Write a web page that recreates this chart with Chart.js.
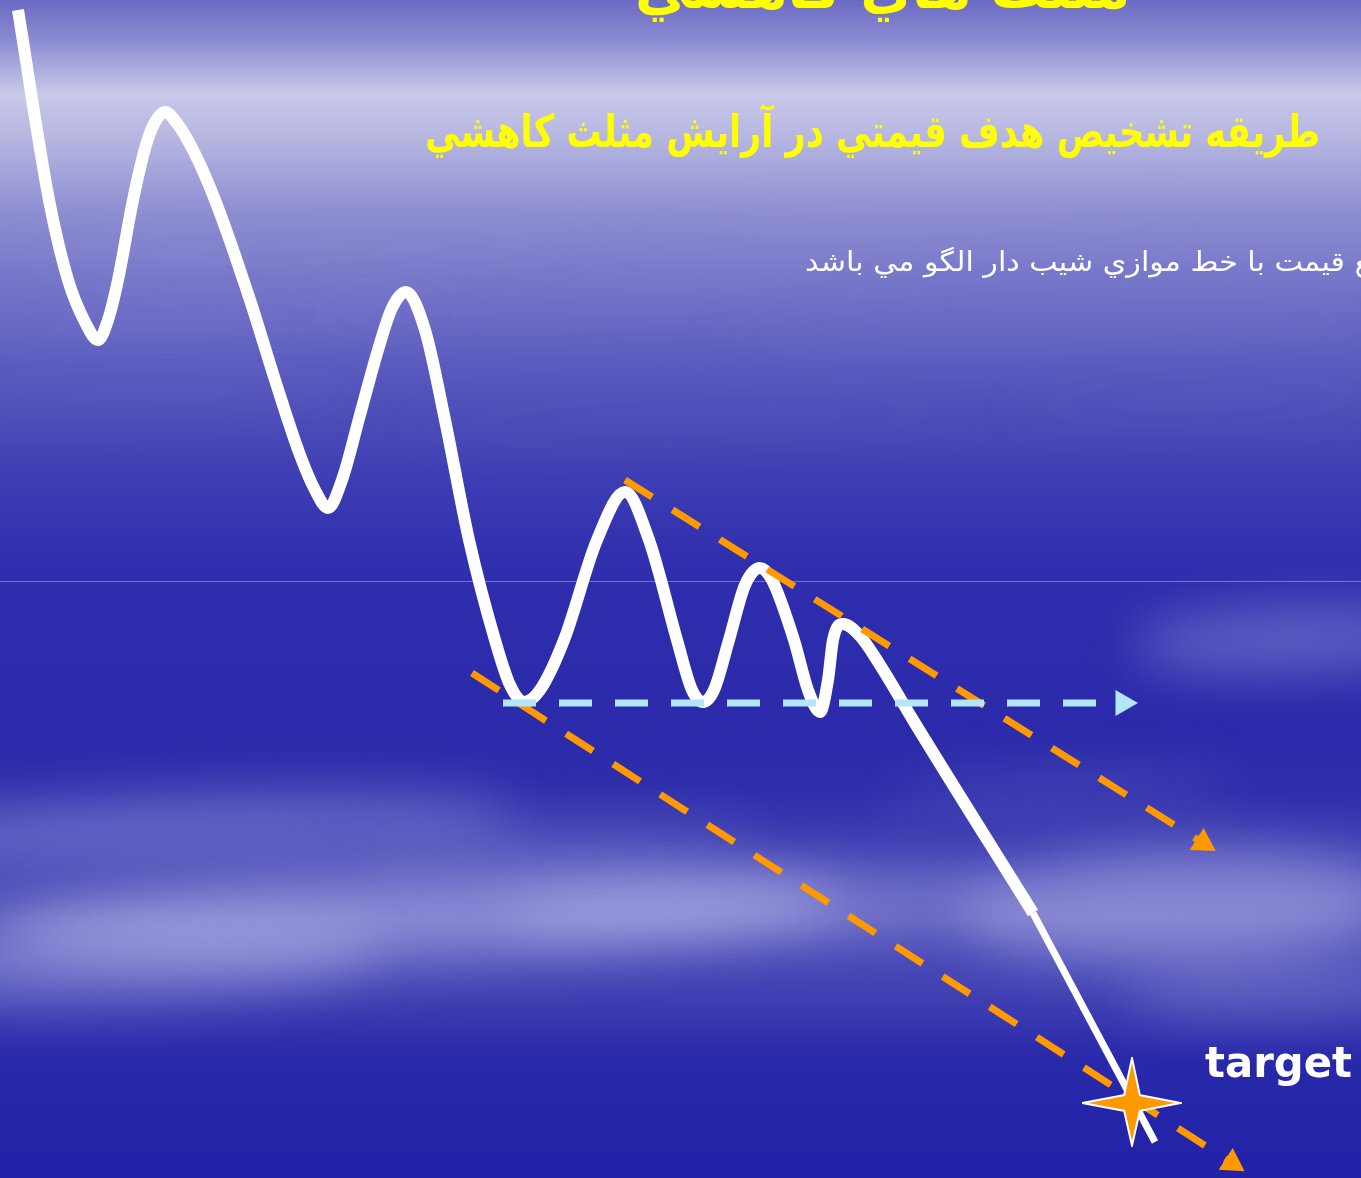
<!DOCTYPE html>
<html>
<head>
<meta charset="utf-8">
<script src="https://cdn.jsdelivr.net/npm/chart.js@4"></script>
<style>
  html, body { margin: 0; padding: 0; background: #2a2aaa; overflow: hidden; }
  canvas { display: block; }
</style>
</head>
<body>
<canvas id="chart" width="1361" height="1178"></canvas>
<script>
const waveX = [18, 49, 68, 85, 98, 108, 118, 133, 146, 155, 165, 176, 193, 215, 250, 275, 300, 315, 328, 342, 360, 378, 392, 406, 425, 445, 469, 495, 510, 524, 540, 564, 597, 625, 649, 677, 692, 703, 714, 729, 745, 760, 772, 794, 808, 820, 828, 833, 843, 860, 880, 913, 1033]
const waveY = [10, 200, 280, 322, 340, 320, 280, 200, 145, 122, 112, 122, 150, 200, 300, 380, 455, 490, 508, 480, 415, 350, 308, 292, 330, 420, 540, 640, 685, 702, 690, 640, 540, 492, 540, 640, 690, 702, 690, 640, 585, 568, 580, 640, 690, 712, 680, 640, 624, 636, 665, 720, 913]
const tailX = [1033, 1155]
const tailY = [913, 1142]

// pattern lines (start, arrow)
const upperX = [625, 1203]
const upperY = [480, 843]
const lowerX = [472, 1232]
const lowerY = [673, 1163]
const supportX = [503, 1123]
const supportY = [703, 703]

const targetX = [1132]
const targetY = [1102]

const titleText = 'مثلث هاي كاهشي'
const subtitleText = 'طريقه تشخيص هدف قيمتي در آرايش مثلث كاهشي'
const noteText = 'هدف قيمتي محل تقاطع قيمت با خط موازي شيب دار الگو مي باشد'
const noteVisible = 'قيمت با خط موازي شيب دار الگو مي باشد'
const targetText = 'target'

const pts = (xs, ys) => xs.map((x, i) => ({ x: x, y: ys[i] }))

// 4 pointed star used as point style
const star = document.createElement('canvas')
star.width = 100
star.height = 90
{
  const s = star.getContext('2d')
  const cx = 50, cy = 46, r = 7
  s.beginPath()
  s.moveTo(cx, cy - 40)
  s.lineTo(cx + r, cy - r)
  s.lineTo(cx + 43, cy)
  s.lineTo(cx + r, cy + r)
  s.lineTo(cx, cy + 38)
  s.lineTo(cx - r, cy + r)
  s.lineTo(cx - 44, cy)
  s.lineTo(cx - r, cy - r)
  s.closePath()
  s.lineJoin = 'miter'
  s.lineWidth = 4
  s.strokeStyle = '#ffffff'
  s.stroke()
  s.fillStyle = '#ff9900'
  s.fill()
}

// arrow head points along the line direction
function arrowRotation(xs, ys) {
  return (c) => {
    const sx = c.chart.scales.x, sy = c.chart.scales.y
    const dx = sx.getPixelForValue(xs[1]) - sx.getPixelForValue(xs[0])
    const dy = sy.getPixelForValue(ys[1]) - sy.getPixelForValue(ys[0])
    return Math.atan2(dy, dx) * 180 / Math.PI + 90
  }
}

const backdrop = {
  id: 'backdrop',
  beforeDraw(chart) {
    const { ctx, width, height } = chart
    ctx.save()
    const g = ctx.createLinearGradient(0, 0, 0, height)
    g.addColorStop(0, '#6a6ac4')
    g.addColorStop(0.035, '#8c8cd2')
    g.addColorStop(0.08, '#c9c9eb')
    g.addColorStop(0.12, '#b4b4e0')
    g.addColorStop(0.18, '#8e8ed2')
    g.addColorStop(0.26, '#6c6cc6')
    g.addColorStop(0.34, '#5050ba')
    g.addColorStop(0.42, '#3a3ab2')
    g.addColorStop(0.49, '#2d2dae')
    g.addColorStop(0.62, '#2a2aaa')
    g.addColorStop(0.67, '#2e2eac')
    g.addColorStop(0.72, '#4040b4')
    g.addColorStop(0.78, '#5656bc')
    g.addColorStop(0.85, '#3e3eb2')
    g.addColorStop(0.9, '#2828aa')
    g.addColorStop(1, '#2222a8')
    ctx.fillStyle = g
    ctx.fillRect(0, 0, width, height)

    const streaks = [
      [200, 320, 260, 7, 0.2], [620, 300, 320, 6, 0.14], [1050, 330, 350, 8, 0.12],
      [150, 395, 220, 6, 0.18], [700, 420, 300, 6, 0.1], [1200, 400, 200, 6, 0.1],
      [300, 250, 300, 6, 0.1], [900, 220, 300, 6, 0.08],
      [200, 825, 320, 30, 0.3], [420, 915, 420, 45, 0.4], [760, 905, 260, 30, 0.3],
      [120, 960, 260, 40, 0.3], [1180, 905, 220, 55, 0.4], [1290, 640, 160, 34, 0.3],
      [1270, 990, 150, 28, 0.22], [1060, 790, 180, 16, 0.15], [560, 840, 200, 18, 0.15]
    ]
    ctx.filter = 'blur(26px)'
    streaks.forEach(([cx, cy, rx, ry, a]) => {
      ctx.fillStyle = `rgba(215,215,248,${a})`
      ctx.beginPath()
      ctx.ellipse(cx, cy, rx, ry, -0.04, 0, Math.PI * 2)
      ctx.fill()
    })
    ctx.filter = 'none'

    ctx.strokeStyle = 'rgba(200,200,240,0.45)'
    ctx.lineWidth = 1
    ctx.beginPath()
    ctx.moveTo(0, 581.5)
    ctx.lineTo(width, 581.5)
    ctx.stroke()
    ctx.restore()
  }
}

// draw text at a given font size, squeezed or stretched to a target width
function fitText(ctx, text, font, size, x, y, w, align) {
  ctx.font = `${font.replace('#', size + 'px')}`
  const k = w / ctx.measureText(text).width
  ctx.save()
  ctx.translate(x, y)
  ctx.scale(k, 1)
  ctx.textAlign = align
  ctx.fillText(text, 0, 0)
  ctx.restore()
}

const labels = {
  id: 'labels',
  beforeDatasetsDraw(chart) {
    const { ctx } = chart
    const fam = '"DejaVu Sans", sans-serif'
    ctx.save()
    ctx.textBaseline = 'alphabetic'
    ctx.direction = 'rtl'

    ctx.fillStyle = '#ffff00'
    fitText(ctx, titleText, 'bold # ' + fam, 58, 1130, 8, 495, 'right')
    fitText(ctx, subtitleText, 'bold # ' + fam, 45, 1320, 147, 895, 'right')

    ctx.fillStyle = '#ffffff'
    ctx.font = `normal 27px ${fam}`
    const k = 540 / ctx.measureText(noteVisible).width
    ctx.save()
    ctx.translate(805, 271)
    ctx.scale(k, 1)
    ctx.textAlign = 'left'
    ctx.fillText(noteText, 0, 0)
    ctx.restore()

    ctx.direction = 'ltr'
    fitText(ctx, targetText, 'bold # ' + fam, 42, 1205, 1077, 147, 'left')
    ctx.restore()
  }
}

const chart = new Chart(document.getElementById('chart'), {
  type: 'line',
  data: {
    datasets: [
      {
        data: pts(targetX, targetY),
        pointStyle: star,
        pointRadius: 10,
        showLine: false,
        order: 0
      },
      {
        data: pts(supportX, supportY),
        borderColor: '#b4e6fa',
        backgroundColor: '#b4e6fa',
        borderWidth: 7,
        borderDash: [33, 23],
        borderCapStyle: 'butt',
        pointStyle: 'triangle',
        pointRadius: [0, 15],
        pointBorderWidth: 0,
        pointRotation: arrowRotation(supportX, supportY),
        order: 1
      },
      {
        data: pts(upperX, upperY),
        borderColor: '#ff9900',
        backgroundColor: '#ff9900',
        borderWidth: 7,
        borderDash: [32, 24],
        borderCapStyle: 'butt',
        pointStyle: 'triangle',
        pointRadius: [0, 15],
        pointBorderWidth: 0,
        pointRotation: arrowRotation(upperX, upperY),
        order: 2
      },
      {
        data: pts(lowerX, lowerY),
        borderColor: '#ff9900',
        backgroundColor: '#ff9900',
        borderWidth: 7,
        borderDash: [32, 24],
        borderCapStyle: 'butt',
        pointStyle: 'triangle',
        pointRadius: [0, 15],
        pointBorderWidth: 0,
        pointRotation: arrowRotation(lowerX, lowerY),
        order: 2
      },
      {
        data: pts(tailX, tailY),
        borderColor: '#ffffff',
        borderWidth: 7,
        pointRadius: 0,
        order: 3
      },
      {
        data: pts(waveX, waveY),
        borderColor: '#ffffff',
        borderWidth: 12,
        borderCapStyle: 'butt',
        borderJoinStyle: 'round',
        cubicInterpolationMode: 'monotone',
        pointRadius: 0,
        order: 4
      }
    ]
  },
  options: {
    responsive: false,
    animation: false,
    events: [],
    layout: { padding: 0, autoPadding: false },
    clip: false,
    scales: {
      x: { type: 'linear', min: 0, max: 1361, display: false },
      y: { type: 'linear', min: 0, max: 1178, reverse: true, display: false }
    },
    plugins: {
      legend: { display: false },
      tooltip: { enabled: false }
    }
  },
  plugins: [backdrop, labels]
})
</script>
</body>
</html>
